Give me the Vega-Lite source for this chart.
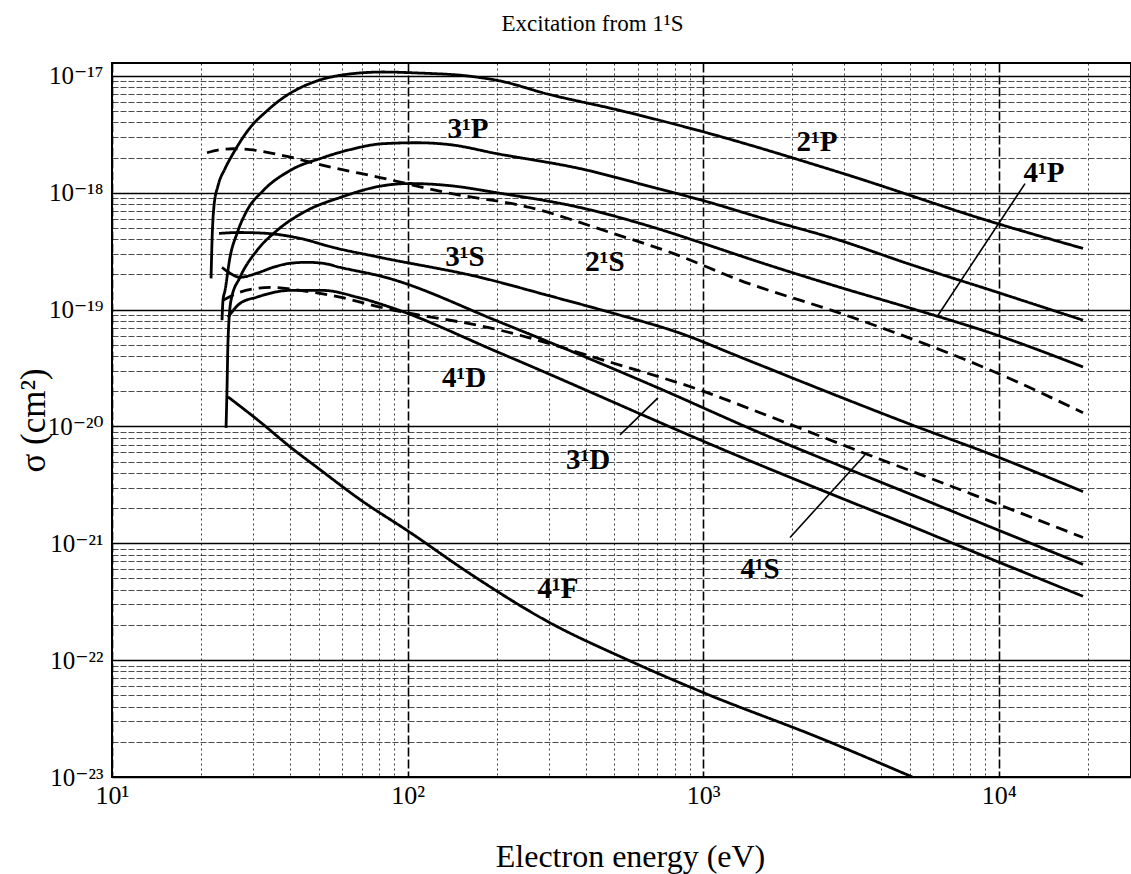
{
  "$schema": "https://vega.github.io/schema/vega-lite/v6.json",
  "width": 1019,
  "height": 714,
  "autosize": {"type": "none"},
  "padding": {"left": 112, "top": 63, "right": 0, "bottom": 97},
  "background": "white",
  "title": {"text": "Excitation from 1¹S", "font": "Liberation Serif", "fontSize": 23, "fontWeight": "normal", "color": "black", "anchor": "middle", "frame": "group", "dx": -29, "baseline": "alphabetic", "offset": 9},
  "config": {"view": {"stroke": "black", "strokeWidth": 2}, "font": "Liberation Serif"},
  "datasets": {
    "curves": [
      {"t": "2¹P", "s": "solid", "E": 21.63, "sig": 1.85e-19},
      {"t": "2¹P", "s": "solid", "E": 21.80, "sig": 3.91e-19},
      {"t": "2¹P", "s": "solid", "E": 22.14, "sig": 7.78e-19},
      {"t": "2¹P", "s": "solid", "E": 22.84, "sig": 1.15e-18},
      {"t": "2¹P", "s": "solid", "E": 24.12, "sig": 1.61e-18},
      {"t": "2¹P", "s": "solid", "E": 25.67, "sig": 2.16e-18},
      {"t": "2¹P", "s": "solid", "E": 29.30, "sig": 3.60e-18},
      {"t": "2¹P", "s": "solid", "E": 33.45, "sig": 5.03e-18},
      {"t": "2¹P", "s": "solid", "E": 37.89, "sig": 6.49e-18},
      {"t": "2¹P", "s": "solid", "E": 43.25, "sig": 7.90e-18},
      {"t": "2¹P", "s": "solid", "E": 49.38, "sig": 9.06e-18},
      {"t": "2¹P", "s": "solid", "E": 63.86, "sig": 1.04e-17},
      {"t": "2¹P", "s": "solid", "E": 82.58, "sig": 1.08e-17},
      {"t": "2¹P", "s": "solid", "E": 107.6, "sig": 1.06e-17},
      {"t": "2¹P", "s": "solid", "E": 158.9, "sig": 1.0e-17},
      {"t": "2¹P", "s": "solid", "E": 205.4, "sig": 9.06e-18},
      {"t": "2¹P", "s": "solid", "E": 296.2, "sig": 7.02e-18},
      {"t": "2¹P", "s": "solid", "E": 495.3, "sig": 5.23e-18},
      {"t": "2¹P", "s": "solid", "E": 998.4, "sig": 3.33e-18},
      {"t": "2¹P", "s": "solid", "E": 2903, "sig": 1.49e-18},
      {"t": "2¹P", "s": "solid", "E": 9862, "sig": 5.46e-19},
      {"t": "2¹P", "s": "solid", "E": 19270, "sig": 3.34e-19},

      {"t": "3¹P", "s": "solid", "E": 23.56, "sig": 8.12e-20},
      {"t": "3¹P", "s": "solid", "E": 23.74, "sig": 1.20e-19},
      {"t": "3¹P", "s": "solid", "E": 24.12, "sig": 1.46e-19},
      {"t": "3¹P", "s": "solid", "E": 25.07, "sig": 2.80e-19},
      {"t": "3¹P", "s": "solid", "E": 26.48, "sig": 4.49e-19},
      {"t": "3¹P", "s": "solid", "E": 28.62, "sig": 7.05e-19},
      {"t": "3¹P", "s": "solid", "E": 32.42, "sig": 1.04e-18},
      {"t": "3¹P", "s": "solid", "E": 40.01, "sig": 1.55e-18},
      {"t": "3¹P", "s": "solid", "E": 51.74, "sig": 2.00e-18},
      {"t": "3¹P", "s": "solid", "E": 63.86, "sig": 2.34e-18},
      {"t": "3¹P", "s": "solid", "E": 82.58, "sig": 2.63e-18},
      {"t": "3¹P", "s": "solid", "E": 107.6, "sig": 2.68e-18},
      {"t": "3¹P", "s": "solid", "E": 139.2, "sig": 2.58e-18},
      {"t": "3¹P", "s": "solid", "E": 200.7, "sig": 2.16e-18},
      {"t": "3¹P", "s": "solid", "E": 383.1, "sig": 1.61e-18},
      {"t": "3¹P", "s": "solid", "E": 697.9, "sig": 1.09e-18},
      {"t": "3¹P", "s": "solid", "E": 998.4, "sig": 8.58e-19},
      {"t": "3¹P", "s": "solid", "E": 1557, "sig": 6.14e-19},
      {"t": "3¹P", "s": "solid", "E": 2903, "sig": 3.91e-19},
      {"t": "3¹P", "s": "solid", "E": 4892, "sig": 2.49e-19},
      {"t": "3¹P", "s": "solid", "E": 9862, "sig": 1.41e-19},
      {"t": "3¹P", "s": "solid", "E": 19270, "sig": 8.12e-20},

      {"t": "4¹P", "s": "solid", "E": 24.31, "sig": 9.73e-21},
      {"t": "4¹P", "s": "solid", "E": 24.49, "sig": 2.05e-20},
      {"t": "4¹P", "s": "solid", "E": 24.69, "sig": 5.48e-20},
      {"t": "4¹P", "s": "solid", "E": 25.27, "sig": 1.20e-19},
      {"t": "4¹P", "s": "solid", "E": 27.10, "sig": 1.89e-19},
      {"t": "4¹P", "s": "solid", "E": 30.94, "sig": 3.21e-19},
      {"t": "4¹P", "s": "solid", "E": 36.16, "sig": 4.76e-19},
      {"t": "4¹P", "s": "solid", "E": 45.67, "sig": 7.05e-19},
      {"t": "4¹P", "s": "solid", "E": 59.06, "sig": 9.10e-19},
      {"t": "4¹P", "s": "solid", "E": 82.58, "sig": 1.15e-18},
      {"t": "4¹P", "s": "solid", "E": 101.9, "sig": 1.20e-18},
      {"t": "4¹P", "s": "solid", "E": 139.2, "sig": 1.15e-18},
      {"t": "4¹P", "s": "solid", "E": 200.7, "sig": 1.00e-18},
      {"t": "4¹P", "s": "solid", "E": 383.1, "sig": 7.48e-19},
      {"t": "4¹P", "s": "solid", "E": 697.9, "sig": 4.95e-19},
      {"t": "4¹P", "s": "solid", "E": 998.4, "sig": 3.69e-19},
      {"t": "4¹P", "s": "solid", "E": 1557, "sig": 2.54e-19},
      {"t": "4¹P", "s": "solid", "E": 2903, "sig": 1.55e-19},
      {"t": "4¹P", "s": "solid", "E": 4892, "sig": 1.05e-19},
      {"t": "4¹P", "s": "solid", "E": 9862, "sig": 6.05e-20},
      {"t": "4¹P", "s": "solid", "E": 19270, "sig": 3.23e-20},

      {"t": "2¹S", "s": "dashed", "E": 20.96, "sig": 2.20e-18},
      {"t": "2¹S", "s": "dashed", "E": 23.19, "sig": 2.34e-18},
      {"t": "2¹S", "s": "dashed", "E": 25.67, "sig": 2.38e-18},
      {"t": "2¹S", "s": "dashed", "E": 29.30, "sig": 2.34e-18},
      {"t": "2¹S", "s": "dashed", "E": 37.89, "sig": 2.08e-18},
      {"t": "2¹S", "s": "dashed", "E": 55.92, "sig": 1.64e-18},
      {"t": "2¹S", "s": "dashed", "E": 80.66, "sig": 1.35e-18},
      {"t": "2¹S", "s": "dashed", "E": 135.9, "sig": 1.00e-18},
      {"t": "2¹S", "s": "dashed", "E": 259.5, "sig": 7.48e-19},
      {"t": "2¹S", "s": "dashed", "E": 495.3, "sig": 4.49e-19},
      {"t": "2¹S", "s": "dashed", "E": 790.5, "sig": 3.03e-19},
      {"t": "2¹S", "s": "dashed", "E": 1332, "sig": 1.78e-19},
      {"t": "2¹S", "s": "dashed", "E": 2903, "sig": 9.32e-20},
      {"t": "2¹S", "s": "dashed", "E": 4892, "sig": 5.82e-20},
      {"t": "2¹S", "s": "dashed", "E": 9862, "sig": 2.87e-20},
      {"t": "2¹S", "s": "dashed", "E": 19270, "sig": 1.31e-20},

      {"t": "3¹S", "s": "solid", "E": 23.01, "sig": 4.49e-19},
      {"t": "3¹S", "s": "solid", "E": 27.10, "sig": 4.57e-19},
      {"t": "3¹S", "s": "solid", "E": 33.45, "sig": 4.49e-19},
      {"t": "3¹S", "s": "solid", "E": 43.25, "sig": 4.07e-19},
      {"t": "3¹S", "s": "solid", "E": 55.92, "sig": 3.41e-19},
      {"t": "3¹S", "s": "solid", "E": 80.66, "sig": 2.80e-19},
      {"t": "3¹S", "s": "solid", "E": 175.8, "sig": 1.89e-19},
      {"t": "3¹S", "s": "solid", "E": 296.2, "sig": 1.33e-19},
      {"t": "3¹S", "s": "solid", "E": 495.3, "sig": 9.32e-20},
      {"t": "3¹S", "s": "solid", "E": 834.8, "sig": 6.29e-20},
      {"t": "3¹S", "s": "solid", "E": 1332, "sig": 3.93e-20},
      {"t": "3¹S", "s": "solid", "E": 2903, "sig": 1.79e-20},
      {"t": "3¹S", "s": "solid", "E": 4892, "sig": 1.07e-20},
      {"t": "3¹S", "s": "solid", "E": 9862, "sig": 5.51e-21},
      {"t": "3¹S", "s": "solid", "E": 19270, "sig": 2.77e-21},

      {"t": "3¹D", "s": "solid", "E": 23.56, "sig": 2.30e-19},
      {"t": "3¹D", "s": "solid", "E": 25.07, "sig": 2.05e-19},
      {"t": "3¹D", "s": "solid", "E": 27.10, "sig": 1.89e-19},
      {"t": "3¹D", "s": "solid", "E": 30.94, "sig": 2.05e-19},
      {"t": "3¹D", "s": "solid", "E": 35.05, "sig": 2.30e-19},
      {"t": "3¹D", "s": "solid", "E": 40.01, "sig": 2.49e-19},
      {"t": "3¹D", "s": "solid", "E": 45.67, "sig": 2.54e-19},
      {"t": "3¹D", "s": "solid", "E": 51.74, "sig": 2.49e-19},
      {"t": "3¹D", "s": "solid", "E": 59.06, "sig": 2.30e-19},
      {"t": "3¹D", "s": "solid", "E": 84.0, "sig": 1.89e-19},
      {"t": "3¹D", "s": "solid", "E": 205.4, "sig": 7.81e-20},
      {"t": "3¹D", "s": "solid", "E": 703.3, "sig": 2.14e-20},
      {"t": "3¹D", "s": "solid", "E": 1557, "sig": 8.82e-21},
      {"t": "3¹D", "s": "solid", "E": 2903, "sig": 4.61e-21},
      {"t": "3¹D", "s": "solid", "E": 4892, "sig": 2.71e-21},
      {"t": "3¹D", "s": "solid", "E": 9862, "sig": 1.31e-21},
      {"t": "3¹D", "s": "solid", "E": 19270, "sig": 6.60e-22},

      {"t": "4¹S", "s": "dashed", "E": 23.74, "sig": 1.20e-19},
      {"t": "4¹S", "s": "dashed", "E": 27.10, "sig": 1.41e-19},
      {"t": "4¹S", "s": "dashed", "E": 30.94, "sig": 1.52e-19},
      {"t": "4¹S", "s": "dashed", "E": 35.05, "sig": 1.55e-19},
      {"t": "4¹S", "s": "dashed", "E": 43.25, "sig": 1.46e-19},
      {"t": "4¹S", "s": "dashed", "E": 59.06, "sig": 1.28e-19},
      {"t": "4¹S", "s": "dashed", "E": 80.66, "sig": 1.05e-19},
      {"t": "4¹S", "s": "dashed", "E": 205.4, "sig": 6.67e-20},
      {"t": "4¹S", "s": "dashed", "E": 495.3, "sig": 3.49e-20},
      {"t": "4¹S", "s": "dashed", "E": 975.4, "sig": 2.05e-20},
      {"t": "4¹S", "s": "dashed", "E": 1557, "sig": 1.31e-20},
      {"t": "4¹S", "s": "dashed", "E": 3472, "sig": 5.96e-21},
      {"t": "4¹S", "s": "dashed", "E": 8180, "sig": 2.61e-21},
      {"t": "4¹S", "s": "dashed", "E": 19270, "sig": 1.12e-21},

      {"t": "4¹D", "s": "solid", "E": 24.69, "sig": 8.61e-20},
      {"t": "4¹D", "s": "solid", "E": 27.10, "sig": 1.13e-19},
      {"t": "4¹D", "s": "solid", "E": 30.94, "sig": 1.28e-19},
      {"t": "4¹D", "s": "solid", "E": 40.01, "sig": 1.46e-19},
      {"t": "4¹D", "s": "solid", "E": 51.74, "sig": 1.46e-19},
      {"t": "4¹D", "s": "solid", "E": 67.43, "sig": 1.28e-19},
      {"t": "4¹D", "s": "solid", "E": 87.2, "sig": 1.05e-19},
      {"t": "4¹D", "s": "solid", "E": 205.4, "sig": 4.25e-20},
      {"t": "4¹D", "s": "solid", "E": 1332, "sig": 5.51e-21},
      {"t": "4¹D", "s": "solid", "E": 2903, "sig": 2.46e-21},
      {"t": "4¹D", "s": "solid", "E": 4892, "sig": 1.45e-21},
      {"t": "4¹D", "s": "solid", "E": 9862, "sig": 7.00e-22},
      {"t": "4¹D", "s": "solid", "E": 19270, "sig": 3.52e-22},

      {"t": "4¹F", "s": "solid", "E": 24.69, "sig": 1.79e-20},
      {"t": "4¹F", "s": "solid", "E": 31.68, "sig": 1.095e-20},
      {"t": "4¹F", "s": "solid", "E": 40.01, "sig": 6.70e-21},
      {"t": "4¹F", "s": "solid", "E": 50.55, "sig": 4.27e-21},
      {"t": "4¹F", "s": "solid", "E": 69.02, "sig": 2.37e-21},
      {"t": "4¹F", "s": "solid", "E": 101.9, "sig": 1.24e-21},
      {"t": "4¹F", "s": "solid", "E": 160.1, "sig": 5.64e-22},
      {"t": "4¹F", "s": "solid", "E": 300.9, "sig": 2.11e-22},
      {"t": "4¹F", "s": "solid", "E": 548.2, "sig": 1.02e-22},
      {"t": "4¹F", "s": "solid", "E": 990.8, "sig": 5.33e-23},
      {"t": "4¹F", "s": "solid", "E": 2523, "sig": 2.12e-23},
      {"t": "4¹F", "s": "solid", "E": 5100, "sig": 1.0e-23}
    ],
    "labels": [
      {"t": "2¹P", "E": 2427, "sig": 2.735e-18},
      {"t": "3¹P", "E": 160.1, "sig": 3.53e-18},
      {"t": "3¹S", "E": 156.4, "sig": 2.80e-19},
      {"t": "2¹S", "E": 465.4, "sig": 2.54e-19},
      {"t": "4¹P", "E": 14220, "sig": 1.487e-18},
      {"t": "4¹D", "E": 155.2, "sig": 2.60e-20},
      {"t": "3¹D", "E": 407.6, "sig": 5.19e-21},
      {"t": "4¹S", "E": 1557, "sig": 5.98e-22},
      {"t": "4¹F", "E": 322.7, "sig": 4.04e-22}
    ],
    "pointers": [
      {"t": "4¹P", "E": 12265, "sig": 1.198e-18, "E2": 6229, "sig2": 8.96e-20},
      {"t": "3¹D", "E": 523, "sig": 8.48e-21, "E2": 703, "sig2": 1.754e-20},
      {"t": "4¹S", "E": 1967, "sig": 1.121e-21, "E2": 3527, "sig2": 5.73e-21}
    ]
  },
  "layer": [
    {
      "data": {"name": "curves"},
      "mark": {"type": "line", "clip": true, "color": "black", "strokeWidth": 2.8, "interpolate": "monotone"},
      "encoding": {
        "x": {
          "field": "E", "type": "quantitative",
          "scale": {"type": "log", "domain": [10, 28000], "nice": false},
          "axis": {
            "values": [10, 20, 30, 40, 50, 60, 70, 80, 90, 100, 200, 300, 400, 500, 600, 700, 800, 900, 1000, 2000, 3000, 4000, 5000, 6000, 7000, 8000, 9000, 10000, 20000],
            "labelExpr": "abs(log(datum.value)/LN10 - round(log(datum.value)/LN10)) < 0.001 ? '10' + ['¹','²','³','⁴'][round(log(datum.value)/LN10)-1] : ''",
            "labelFont": "Liberation Serif, DejaVu Serif", "labelFontSize": 26, "labelColor": "black",
            "labelPadding": 5, "labelFlush": false, "labelOverlap": false,
            "ticks": false, "domain": false,
            "grid": true, "gridColor": "black",
            "gridDash": {"condition": {"test": "abs(log(datum.value)/LN10 - round(log(datum.value)/LN10)) < 0.001", "value": [9, 3]}, "value": [2, 3]},
            "gridOpacity": {"condition": {"test": "abs(log(datum.value)/LN10 - round(log(datum.value)/LN10)) < 0.001", "value": 1}, "value": 0.75},
            "gridWidth": {"condition": {"test": "abs(log(datum.value)/LN10 - round(log(datum.value)/LN10)) < 0.001", "value": 1.6}, "value": 1},
            "title": "Electron energy (eV)", "titleFont": "Liberation Serif", "titleFontSize": 32, "titleFontWeight": "normal", "titleColor": "black",
            "titleX": 518, "titleY": 89, "titleBaseline": "alphabetic", "titleAlign": "center"
          }
        },
        "y": {
          "field": "sig", "type": "quantitative",
          "scale": {"type": "log", "domain": [1e-23, 1.29e-17], "nice": false},
          "axis": {
            "values": [1e-23, 2e-23, 3e-23, 4e-23, 5e-23, 6e-23, 7e-23, 8e-23, 9e-23, 1e-22, 2e-22, 3e-22, 4e-22, 5e-22, 6e-22, 7e-22, 8e-22, 9e-22, 1e-21, 2e-21, 3e-21, 4e-21, 5e-21, 6e-21, 7e-21, 8e-21, 9e-21, 1e-20, 2e-20, 3e-20, 4e-20, 5e-20, 6e-20, 7e-20, 8e-20, 9e-20, 1e-19, 2e-19, 3e-19, 4e-19, 5e-19, 6e-19, 7e-19, 8e-19, 9e-19, 1e-18, 2e-18, 3e-18, 4e-18, 5e-18, 6e-18, 7e-18, 8e-18, 9e-18, 1e-17],
            "labelExpr": "abs(log(datum.value)/LN10 - round(log(datum.value)/LN10)) < 0.001 ? '10' + ['⁻²³','⁻²²','⁻²¹','⁻²⁰','⁻¹⁹','⁻¹⁸','⁻¹⁷'][round(log(datum.value)/LN10)+23] : ''",
            "labelFont": "Liberation Serif, DejaVu Serif", "labelFontSize": 25, "labelColor": "black",
            "labelPadding": 9, "labelOverlap": false, "labelFlush": false,
            "ticks": false, "domain": false,
            "grid": true, "gridColor": "black",
            "gridDash": {"condition": {"test": "abs(log(datum.value)/LN10 - round(log(datum.value)/LN10)) < 0.001", "value": [1, 0]}, "value": [6, 2]},
            "gridOpacity": {"condition": {"test": "abs(log(datum.value)/LN10 - round(log(datum.value)/LN10)) < 0.001", "value": 1}, "value": 0.7},
            "gridWidth": {"condition": {"test": "abs(log(datum.value)/LN10 - round(log(datum.value)/LN10)) < 0.001", "value": 1.6}, "value": 1},
            "title": "σ (cm²)", "titleFont": "Liberation Serif", "titleFontSize": 35, "titleFontWeight": "normal", "titleColor": "black",
            "titleX": -68, "titleY": 357, "titleAngle": -90, "titleBaseline": "alphabetic", "titleAlign": "center"
          }
        },
        "detail": {"field": "t", "type": "nominal"},
        "strokeDash": {"field": "s", "type": "nominal", "scale": {"domain": ["solid", "dashed"], "range": [[1, 0], [12, 7]]}, "legend": null}
      }
    },
    {
      "data": {"name": "pointers"},
      "mark": {"type": "rule", "color": "black", "strokeWidth": 1.6},
      "encoding": {
        "x": {"field": "E", "type": "quantitative"},
        "y": {"field": "sig", "type": "quantitative"},
        "x2": {"field": "E2"},
        "y2": {"field": "sig2"}
      }
    },
    {
      "data": {"name": "labels"},
      "mark": {"type": "text", "font": "Liberation Serif", "fontSize": 29, "fontWeight": "bold", "color": "black", "align": "center", "baseline": "middle"},
      "encoding": {
        "x": {"field": "E", "type": "quantitative"},
        "y": {"field": "sig", "type": "quantitative"},
        "text": {"field": "t", "type": "nominal"}
      }
    }
  ]
}
